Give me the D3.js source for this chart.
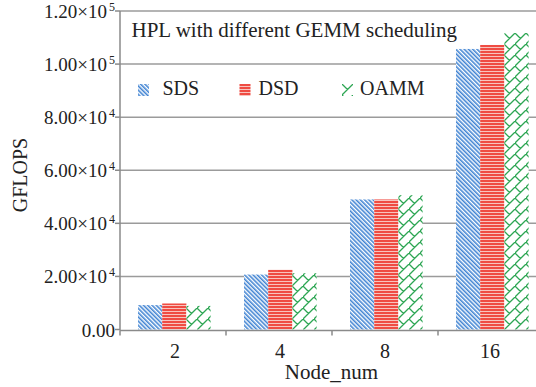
<!DOCTYPE html>
<html>
<head>
<meta charset="utf-8">
<title>HPL with different GEMM scheduling</title>
<script src="https://d3js.org/d3.v7.min.js"></script>
<style>
  body { margin: 0; background: #fff; }
  svg text { font-family: "Liberation Serif", serif; fill: #222; }
</style>
</head>
<body>
<div id="chart"></div>
<script>
// data
const categories = ["2", "4", "8", "16"];
const seriesNames = ["SDS", "DSD", "OAMM"];
const sdsValues = [9200, 20700, 49000, 105700];
const dsdValues = [9800, 22500, 49000, 107200];
const oammValues = [8900, 21200, 50600, 111700];
const yTicks = [0, 20000, 40000, 60000, 80000, 100000, 120000];

const width = 536, height = 387;
const plotLeft = 120, plotRight = 544, plotTop = 11, plotBottom = 329.5;

const svg = d3.select("#chart").append("svg")
  .attr("width", width).attr("height", height);

// patterns
const defs = svg.append("defs");
const pSds = defs.append("pattern").attr("id", "p-sds")
  .attr("patternUnits", "userSpaceOnUse").attr("width", 3).attr("height", 3)
  .attr("patternTransform", "rotate(45)");
pSds.append("rect").attr("width", 3).attr("height", 3).attr("fill", "#fff");
pSds.append("line").attr("x1", 0).attr("x2", 3).attr("y1", 1.2).attr("y2", 1.2)
  .attr("stroke", "#357cd0").attr("stroke-width", 1.5);

const pDsd = defs.append("pattern").attr("id", "p-dsd")
  .attr("patternUnits", "userSpaceOnUse").attr("width", 4).attr("height", 3);
pDsd.append("rect").attr("width", 4).attr("height", 3).attr("fill", "#f8c4be");
pDsd.append("rect").attr("width", 4).attr("height", 2).attr("fill", "#ef4c43");

const pOamm = defs.append("pattern").attr("id", "p-oamm")
  .attr("patternUnits", "userSpaceOnUse").attr("width", 11).attr("height", 11);
pOamm.append("rect").attr("width", 11).attr("height", 11).attr("fill", "#fff");
pOamm.append("path")
  .attr("d", "M-1,12 L12,-1 M0,0 L5.5,5.5 M-1,-1 L0,0 M11,11 L12,12 M-1,10 L0,11")
  .attr("stroke", "#2da653").attr("stroke-width", 1.3).attr("fill", "none");

const fills = { SDS: "url(#p-sds)", DSD: "url(#p-dsd)", OAMM: "url(#p-oamm)" };

const rows = categories.map((c, i) => ({
  cat: c,
  vals: [
    { name: "SDS", v: sdsValues[i] },
    { name: "DSD", v: dsdValues[i] },
    { name: "OAMM", v: oammValues[i] }
  ]
}));

const x = d3.scaleBand().domain(categories).range([plotLeft, plotRight]).padding(0);
const xs = d3.scaleBand().domain(seriesNames).range([18, 18 + 72.6]).padding(0);
const y = d3.scaleLinear().domain([0, 120000]).range([plotBottom, plotTop]);

// gridlines (top one is the frame)
svg.append("g").selectAll("line")
  .data(yTicks.filter(t => t > 0))
  .join("line")
  .attr("x1", plotLeft).attr("x2", width)
  .attr("y1", d => y(d)).attr("y2", d => y(d))
  .attr("stroke", "#9b9b9b").attr("stroke-width", 1.5);

// bars
const groups = svg.append("g").selectAll("g")
  .data(rows).join("g")
  .attr("transform", d => `translate(${x(d.cat)},0)`);
groups.selectAll("rect")
  .data(d => d.vals).join("rect")
  .attr("x", d => xs(d.name))
  .attr("width", xs.bandwidth())
  .attr("y", d => y(d.v))
  .attr("height", d => plotBottom - y(d.v))
  .attr("fill", d => fills[d.name]);

// y axis
svg.append("line").attr("x1", plotLeft).attr("x2", plotLeft)
  .attr("y1", plotTop).attr("y2", plotBottom + 1)
  .attr("stroke", "#8a8a8a").attr("stroke-width", 1.5);
const yt = svg.append("g").selectAll("g").data(yTicks).join("g")
  .attr("transform", d => `translate(0,${y(d)})`);
yt.append("line").attr("x1", plotLeft - 5).attr("x2", plotLeft)
  .attr("stroke", "#8a8a8a").attr("stroke-width", 1.5);
yt.append("text")
  .attr("x", plotLeft - 5).attr("y", 7)
  .attr("text-anchor", "end")
  .style("font-size", "19px")
  .each(function(d) {
    const t = d3.select(this);
    if (d === 0) { t.text("0.00"); return; }
    const e = Math.floor(Math.log10(d));
    const m = d / Math.pow(10, e);
    t.append("tspan").text(m.toFixed(2) + "×10");
    t.append("tspan").attr("dx", 2).attr("dy", -7).style("font-size", "12px").text(e);
  });

// x axis
svg.append("line").attr("x1", plotLeft).attr("x2", width)
  .attr("y1", plotBottom + 1).attr("y2", plotBottom + 1)
  .attr("stroke", "#8a8a8a").attr("stroke-width", 1.5);
svg.append("g").selectAll("line")
  .data(categories.concat(["end"]))
  .join("line")
  .attr("x1", (d, i) => plotLeft + i * x.step()).attr("x2", (d, i) => plotLeft + i * x.step())
  .attr("y1", plotBottom + 1).attr("y2", plotBottom + 6)
  .attr("stroke", "#8a8a8a").attr("stroke-width", 1.5);
svg.append("g").selectAll("text")
  .data(categories).join("text")
  .attr("x", (d, i) => x(d) + x.bandwidth() / 2 + 2 - i)
  .attr("y", 358)
  .attr("text-anchor", "middle")
  .style("font-size", "20px")
  .text(d => d);

svg.append("text").attr("x", 331.5).attr("y", 379)
  .attr("text-anchor", "middle").style("font-size", "21px").text("Node_num");
svg.append("text")
  .attr("transform", "translate(27,175) rotate(-90)")
  .attr("text-anchor", "middle").style("font-size", "20px").text("GFLOPS");

// title
svg.append("text").attr("x", 131.5).attr("y", 37)
  .style("font-size", "21px").text("HPL with different GEMM scheduling");

// legend
const legendX = [138, 239.5, 342];
const lg = svg.append("g").selectAll("g")
  .data(seriesNames).join("g")
  .attr("transform", (d, i) => `translate(${legendX[i]},84)`);
lg.append("rect").attr("width", 11).attr("height", 12)
  .attr("fill", d => fills[d]);
lg.append("text")
  .attr("x", (d, i) => [24.5, 19, 18][i]).attr("y", 11)
  .style("font-size", "20px").text(d => d);
</script>
</body>
</html>
